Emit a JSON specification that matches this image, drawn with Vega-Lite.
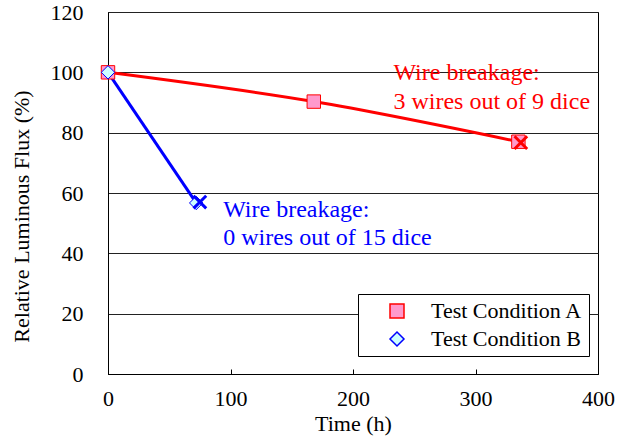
{
  "$schema": "https://vega.github.io/schema/vega-lite/v6.json",
  "width": 490,
  "height": 362,
  "autosize": {"type": "none"},
  "padding": {"left": 108, "top": 12, "right": 19, "bottom": 74},
  "config": {
    "font": "Liberation Serif",
    "view": {"stroke": "#000", "strokeWidth": 1},
    "axis": {
      "labelFont": "Liberation Serif",
      "titleFont": "Liberation Serif",
      "labelColor": "#000",
      "titleColor": "#000",
      "titleFontWeight": "normal",
      "domainColor": "#000",
      "tickColor": "#000",
      "labelFontSize": 22,
      "titleFontSize": 22
    },
    "legend": {
      "title": null,
      "orient": "none",
      "legendX": 250,
      "legendY": 282,
      "padding": 6,
      "strokeColor": "#000",
      "fillColor": "#fff",
      "labelFont": "Liberation Serif",
      "labelFontSize": 22,
      "labelColor": "#000",
      "symbolSize": 196,
      "symbolStrokeWidth": 1.5,
      "symbolOffset": 22,
      "labelOffset": 23,
      "rowPadding": 6
    }
  },
  "datasets": {
    "series": [
      {"series": "Test Condition A", "time": 0, "flux": 100},
      {"series": "Test Condition A", "time": 168, "flux": 90.3},
      {"series": "Test Condition A", "time": 335, "flux": 77},
      {"series": "Test Condition B", "time": 0, "flux": 100},
      {"series": "Test Condition B", "time": 72, "flux": 56.7}
    ],
    "breaks": [
      {"series": "Test Condition A", "time": 337, "flux": 76.7},
      {"series": "Test Condition B", "time": 75, "flux": 57}
    ],
    "notes": [
      {"series": "Test Condition A", "time": 233, "flux": 99.8, "text": "Wire breakage:"},
      {"series": "Test Condition A", "time": 233, "flux": 90.2, "text": "3 wires out of 9 dice"},
      {"series": "Test Condition B", "time": 94, "flux": 54.4, "text": "Wire breakage:"},
      {"series": "Test Condition B", "time": 94, "flux": 45.1, "text": "0 wires out of 15 dice"}
    ]
  },
  "layer": [
    {
      "data": {"name": "series"},
      "transform": [{"filter": "datum.series === 'Test Condition A'"}],
      "mark": {"type": "line", "strokeWidth": 3, "interpolate": "monotone", "color": "#ff0000"},
      "encoding": {
        "x": {
          "field": "time", "type": "quantitative",
          "scale": {"domain": [0, 400], "nice": false},
          "axis": {
            "title": "Time (h)",
            "values": [0, 100, 200, 300, 400],
            "grid": false,
            "tickSize": -5,
            "labelPadding": 36,
            "labelBaseline": "alphabetic",
            "labelFlush": false,
            "labelOverlap": false,
            "titleY": 56,
            "titleBaseline": "alphabetic"
          }
        },
        "y": {
          "field": "flux", "type": "quantitative",
          "scale": {"domain": [0, 120], "nice": false},
          "axis": {
            "title": "Relative Luminous Flux (%)",
            "values": [0, 20, 40, 60, 80, 100, 120],
            "grid": true,
            "gridColor": "#222",
            "gridWidth": 1,
            "ticks": false,
            "labelPadding": 25,
            "labelBaseline": "middle",
            "titleAngle": -90,
            "titleX": -87,
            "titleY": 204,
            "titleBaseline": "middle",
            "titleAlign": "center"
          }
        }
      }
    },
    {
      "data": {"name": "series"},
      "transform": [{"filter": "datum.series === 'Test Condition B'"}],
      "mark": {"type": "line", "strokeWidth": 3, "interpolate": "monotone", "color": "#0000ff"},
      "encoding": {
        "x": {"field": "time", "type": "quantitative"},
        "y": {"field": "flux", "type": "quantitative"}
      }
    },
    {
      "data": {"name": "series"},
      "mark": {"type": "point", "opacity": 1, "fillOpacity": 1, "strokeWidth": 1, "size": 180},
      "encoding": {
        "x": {"field": "time", "type": "quantitative"},
        "y": {"field": "flux", "type": "quantitative"},
        "shape": {
          "field": "series", "type": "nominal",
          "scale": {"domain": ["Test Condition A", "Test Condition B"], "range": ["square", "diamond"]}
        },
        "fill": {
          "field": "series", "type": "nominal",
          "scale": {"domain": ["Test Condition A", "Test Condition B"], "range": ["#ff99cc", "#ccffff"]}
        },
        "stroke": {
          "field": "series", "type": "nominal",
          "scale": {"domain": ["Test Condition A", "Test Condition B"], "range": ["#ff0000", "#0000ff"]}
        }
      }
    },
    {
      "data": {"name": "breaks"},
      "transform": [{"filter": "datum.series === 'Test Condition A'"}],
      "mark": {"type": "point", "shape": "M-1,-1L1,1M-1,1L1,-1", "filled": false, "opacity": 1, "strokeWidth": 3, "size": 160, "color": "#ff0000"},
      "encoding": {
        "x": {"field": "time", "type": "quantitative"},
        "y": {"field": "flux", "type": "quantitative"}
      }
    },
    {
      "data": {"name": "breaks"},
      "transform": [{"filter": "datum.series === 'Test Condition B'"}],
      "mark": {"type": "point", "shape": "M-1,-1L1,1M-1,1L1,-1", "filled": false, "opacity": 1, "strokeWidth": 3, "size": 160, "color": "#0000ff"},
      "encoding": {
        "x": {"field": "time", "type": "quantitative"},
        "y": {"field": "flux", "type": "quantitative"}
      }
    },
    {
      "data": {"name": "notes"},
      "transform": [{"filter": "datum.series === 'Test Condition A'"}],
      "mark": {"type": "text", "align": "left", "baseline": "middle", "fontSize": 24, "font": "Liberation Serif", "color": "#ff0000"},
      "encoding": {
        "x": {"field": "time", "type": "quantitative"},
        "y": {"field": "flux", "type": "quantitative"},
        "text": {"field": "text", "type": "nominal"}
      }
    },
    {
      "data": {"name": "notes"},
      "transform": [{"filter": "datum.series === 'Test Condition B'"}],
      "mark": {"type": "text", "align": "left", "baseline": "middle", "fontSize": 24, "font": "Liberation Serif", "color": "#0000ff"},
      "encoding": {
        "x": {"field": "time", "type": "quantitative"},
        "y": {"field": "flux", "type": "quantitative"},
        "text": {"field": "text", "type": "nominal"}
      }
    }
  ]
}
